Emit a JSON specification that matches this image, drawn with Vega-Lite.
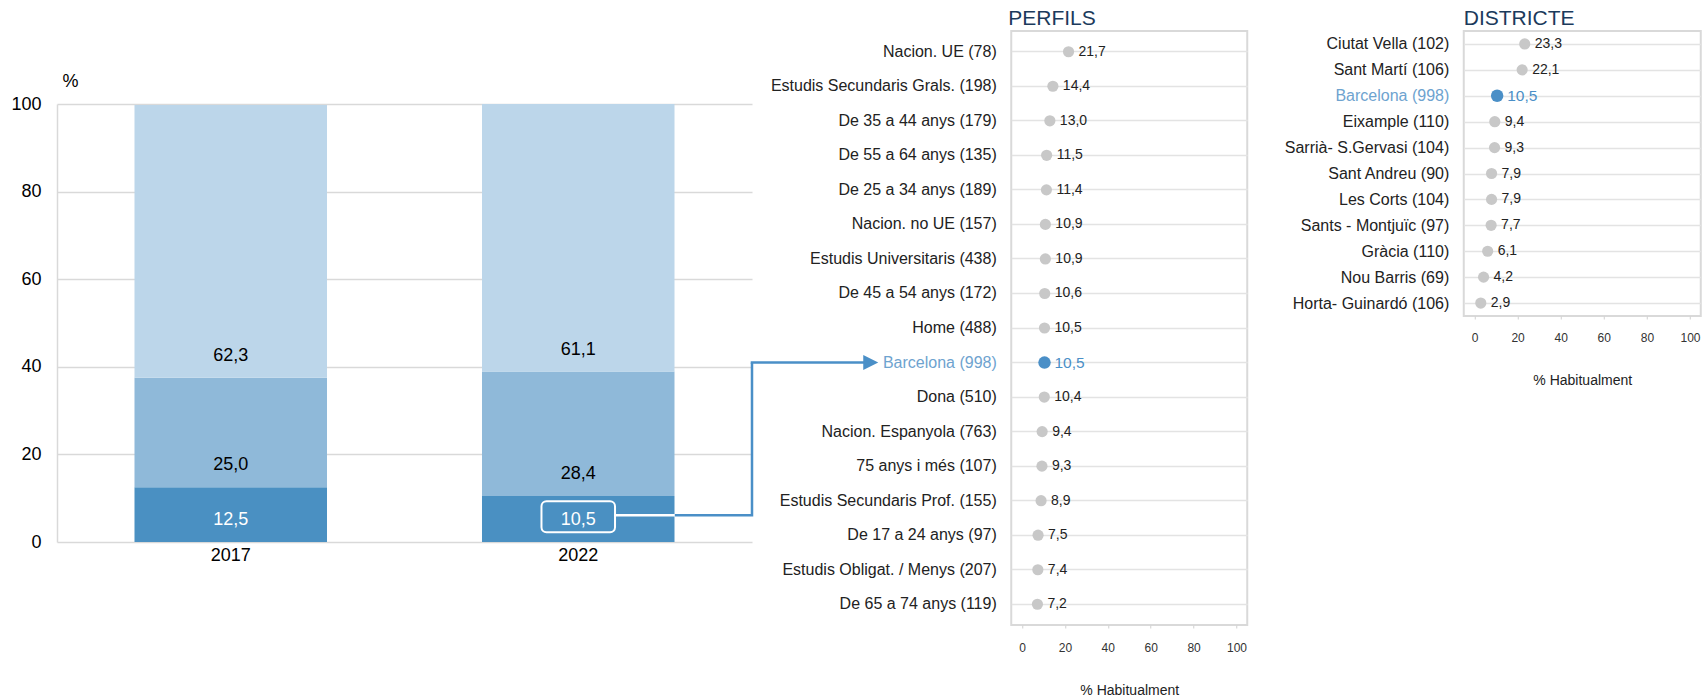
{
  "$schema": "https://vega.github.io/schema/vega-lite/v6.json",
  "padding": {"left": 10, "top": 7, "right": 0, "bottom": 0},
  "background": "white",
  "config": {
    "font": "Liberation Sans",
    "locale": {"number": {"decimal": ",", "thousands": ".", "grouping": [3], "currency": ["", " €"]}},
    "view": {"stroke": "#d9d9d9", "strokeWidth": 2},
    "title": {"anchor": "start", "frame": "group", "fontSize": 21, "fontWeight": "normal", "color": "#1b3a5c", "baseline": "alphabetic", "offset": 2}
  },
  "datasets": {
    "bars": [
      {"year": "2017", "cat": "Habitualment", "k": 1, "value": 12.5},
      {"year": "2017", "cat": "Alguna vegada", "k": 2, "value": 25.0},
      {"year": "2017", "cat": "Mai", "k": 3, "value": 62.3},
      {"year": "2022", "cat": "Habitualment", "k": 1, "value": 10.5},
      {"year": "2022", "cat": "Alguna vegada", "k": 2, "value": 28.4},
      {"year": "2022", "cat": "Mai", "k": 3, "value": 61.1}
    ],
    "box": [{"year": "2022", "b0": 2.2, "b1": 9.3}],
    "conn": [
      {"seg": "w", "o": 1, "cx": 0.802, "cy": 6.1},
      {"seg": "w", "o": 2, "cx": 0.889, "cy": 6.1},
      {"seg": "b", "o": 1, "cx": 0.889, "cy": 6.1},
      {"seg": "b", "o": 2, "cx": 1.0, "cy": 6.1},
      {"seg": "b", "o": 3, "cx": 1.0, "cy": 40.9}
    ],
    "arrow": [{"label": "Barcelona (998)", "a0": -126.44, "a1": -70.5}],
    "perfils": [
      {"label": "Nacion. UE (78)", "value": 21.7},
      {"label": "Estudis Secundaris Grals. (198)", "value": 14.4},
      {"label": "De 35 a 44 anys (179)", "value": 13.0},
      {"label": "De 55 a 64 anys (135)", "value": 11.5},
      {"label": "De 25 a 34 anys (189)", "value": 11.4},
      {"label": "Nacion. no UE (157)", "value": 10.9},
      {"label": "Estudis Universitaris (438)", "value": 10.9},
      {"label": "De 45 a 54 anys (172)", "value": 10.6},
      {"label": "Home (488)", "value": 10.5},
      {"label": "Barcelona (998)", "value": 10.5},
      {"label": "Dona (510)", "value": 10.4},
      {"label": "Nacion. Espanyola (763)", "value": 9.4},
      {"label": "75 anys i més (107)", "value": 9.3},
      {"label": "Estudis Secundaris Prof. (155)", "value": 8.9},
      {"label": "De 17 a 24 anys (97)", "value": 7.5},
      {"label": "Estudis Obligat. / Menys (207)", "value": 7.4},
      {"label": "De 65 a 74 anys (119)", "value": 7.2}
    ],
    "districte": [
      {"label": "Ciutat Vella (102)", "value": 23.3},
      {"label": "Sant Martí (106)", "value": 22.1},
      {"label": "Barcelona (998)", "value": 10.5},
      {"label": "Eixample (110)", "value": 9.4},
      {"label": "Sarrià- S.Gervasi (104)", "value": 9.3},
      {"label": "Sant Andreu (90)", "value": 7.9},
      {"label": "Les Corts (104)", "value": 7.9},
      {"label": "Sants - Montjuïc (97)", "value": 7.7},
      {"label": "Gràcia (110)", "value": 6.1},
      {"label": "Nou Barris (69)", "value": 4.2},
      {"label": "Horta- Guinardó (106)", "value": 2.9}
    ]
  },
  "spacing": -8.75,
  "hconcat": [
    {
      "width": 695,
      "height": 511,
      "view": {"stroke": null},
      "resolve": {"scale": {"x": "independent"}},
      "layer": [
        {
          "data": {"name": "bars"},
          "transform": [{"stack": "value", "groupby": ["year"], "sort": [{"field": "k", "order": "ascending"}], "as": ["y0", "y1"]}],
          "mark": {"type": "bar"},
          "encoding": {
            "x": {"field": "year", "type": "nominal",
              "scale": {"domain": ["2017", "2022"], "paddingInner": 0.446, "paddingOuter": 0.223},
              "axis": {"title": null, "labelAngle": 0, "labelFontSize": 18, "labelColor": "#000000", "ticks": false, "domain": false, "labelPadding": 4, "grid": false}},
            "y": {"field": "y0", "type": "quantitative",
              "scale": {"domain": [0, 100], "range": [511, 73], "nice": false, "zero": true},
              "axis": {"values": [0, 20, 40, 60, 80, 100], "title": "%", "titleAngle": 0, "titleX": 13, "titleY": 50, "titleAlign": "center", "titleBaseline": "middle", "titleFontSize": 18, "titleFontWeight": "normal", "titleColor": "#000000", "labelFontSize": 18, "labelColor": "#000000", "labelPadding": 16, "ticks": false, "domain": true, "domainColor": "#d9d9d9", "domainWidth": 1.5, "grid": true, "gridColor": "#d9d9d9", "gridWidth": 1.5}},
            "y2": {"field": "y1"},
            "color": {"field": "cat", "type": "nominal",
              "scale": {"domain": ["Habitualment", "Alguna vegada", "Mai"], "range": ["#4a90c2", "#8fb9d9", "#bcd6ea"]},
              "legend": null}
          }
        },
        {
          "data": {"name": "bars"},
          "transform": [{"stack": "value", "groupby": ["year"], "sort": [{"field": "k", "order": "ascending"}], "as": ["y0", "y1"]}],
          "mark": {"type": "text", "dy": -22, "fontSize": 18, "baseline": "middle", "align": "center"},
          "encoding": {
            "x": {"field": "year", "type": "nominal", "scale": {"domain": ["2017", "2022"], "paddingInner": 0.446, "paddingOuter": 0.223}, "axis": null},
            "y": {"field": "y0", "type": "quantitative", "title": "%"},
            "text": {"field": "value", "type": "quantitative", "format": ".1f"},
            "color": {"condition": {"test": "datum.k === 1", "value": "#ffffff"}, "value": "#000000"}
          }
        },
        {
          "data": {"name": "box"},
          "mark": {"type": "bar", "width": {"band": 0.382}, "fill": "transparent", "stroke": "#ffffff", "strokeWidth": 2, "cornerRadius": 5},
          "encoding": {
            "x": {"field": "year", "type": "nominal", "scale": {"domain": ["2017", "2022"], "paddingInner": 0.446, "paddingOuter": 0.223}, "axis": null},
            "y": {"field": "b0", "type": "quantitative", "title": "%"},
            "y2": {"field": "b1"}
          }
        },
        {
          "data": {"name": "conn"},
          "transform": [{"filter": "datum.seg === 'w'"}],
          "mark": {"type": "line", "color": "#ffffff", "strokeWidth": 2.5},
          "encoding": {
            "x": {"field": "cx", "type": "quantitative", "scale": {"domain": [0, 1], "nice": false, "zero": false}, "axis": null},
            "y": {"field": "cy", "type": "quantitative", "title": "%"},
            "order": {"field": "o", "type": "quantitative"}
          }
        },
        {
          "data": {"name": "conn"},
          "transform": [{"filter": "datum.seg === 'b'"}],
          "mark": {"type": "line", "color": "#4a8fc7", "strokeWidth": 2.5, "strokeJoin": "miter"},
          "encoding": {
            "x": {"field": "cx", "type": "quantitative", "scale": {"domain": [0, 1], "nice": false, "zero": false}, "axis": null},
            "y": {"field": "cy", "type": "quantitative", "title": "%"},
            "order": {"field": "o", "type": "quantitative"}
          }
        }
      ]
    },
    {
      "spacing": 34.5,
      "hconcat": [
        {
          "width": 236,
          "height": 594,
          "title": {"text": "PERFILS", "dx": -3},
          "layer": [
            {
              "data": {"name": "perfils"},
              "mark": {"type": "point", "filled": true, "opacity": 1},
              "encoding": {
                "x": {"field": "value", "type": "quantitative",
                  "scale": {"domain": [-5, 105], "nice": false, "zero": false},
                  "axis": {"values": [0, 20, 40, 60, 80, 100], "title": "% Habitualment", "titleFontSize": 14, "titleFontWeight": "normal", "titleColor": "#222222", "titlePadding": 30.5, "labelFontSize": 12, "labelColor": "#333333", "labelPadding": 14, "labelFlush": false, "grid": false, "domain": false, "ticks": true, "tickSize": 3, "tickColor": "#d0d0d0"}},
                "y": {"field": "label", "type": "nominal", "sort": null,
                  "scale": {"domain": ["Nacion. UE (78)", "Estudis Secundaris Grals. (198)", "De 35 a 44 anys (179)", "De 55 a 64 anys (135)", "De 25 a 34 anys (189)", "Nacion. no UE (157)", "Estudis Universitaris (438)", "De 45 a 54 anys (172)", "Home (488)", "Barcelona (998)", "Dona (510)", "Nacion. Espanyola (763)", "75 anys i més (107)", "Estudis Secundaris Prof. (155)", "De 17 a 24 anys (97)", "Estudis Obligat. / Menys (207)", "De 65 a 74 anys (119)"], "paddingInner": 0, "paddingOuter": 0.1},
                  "axis": {"title": null, "labelFontSize": 16, "labelColor": {"condition": {"test": "datum.value === 'Barcelona (998)'", "value": "#6ea3cf"}, "value": "#222222"}, "labelPadding": 15, "labelLimit": 400, "ticks": false, "domain": false, "grid": true, "gridColor": "#e3e3e3", "gridWidth": 1.5, "bandPosition": 0.5}},
                "color": {"condition": {"test": "datum.label === 'Barcelona (998)'", "value": "#4a8fc7"}, "value": "#c8c8c8"},
                "size": {"condition": {"test": "datum.label === 'Barcelona (998)'", "value": 155}, "value": 125}
              }
            },
            {
              "data": {"name": "perfils"},
              "mark": {"type": "text", "align": "left", "baseline": "middle", "dx": 10},
              "encoding": {
                "x": {"field": "value", "type": "quantitative", "title": "% Habitualment"},
                "y": {"field": "label", "type": "nominal", "sort": null, "title": null},
                "text": {"field": "value", "type": "quantitative", "format": ".1f"},
                "color": {"condition": {"test": "datum.label === 'Barcelona (998)'", "value": "#4a8fc7"}, "value": "#222222"},
                "size": {"condition": {"test": "datum.label === 'Barcelona (998)'", "value": 15.5}, "value": 14}
              }
            },
            {
              "data": {"name": "arrow"},
              "mark": {"type": "rule", "color": "#4a8fc7", "strokeWidth": 2.5},
              "encoding": {
                "x": {"field": "a0", "type": "quantitative", "title": "% Habitualment"},
                "x2": {"field": "a1"},
                "y": {"field": "label", "type": "nominal", "sort": null, "title": null}
              }
            },
            {
              "data": {"name": "arrow"},
              "mark": {"type": "point", "shape": "M -1 -1 L 1 0 L -1 1 Z", "filled": true, "opacity": 1, "color": "#4a8fc7", "size": 225},
              "encoding": {
                "x": {"field": "a1", "type": "quantitative", "title": "% Habitualment"},
                "y": {"field": "label", "type": "nominal", "sort": null, "title": null}
              }
            }
          ]
        },
        {
          "width": 237,
          "height": 285,
          "title": {"text": "DISTRICTE"},
          "layer": [
            {
              "data": {"name": "districte"},
              "mark": {"type": "point", "filled": true, "opacity": 1},
              "encoding": {
                "x": {"field": "value", "type": "quantitative",
                  "scale": {"domain": [-5, 105], "nice": false, "zero": false},
                  "axis": {"values": [0, 20, 40, 60, 80, 100], "title": "% Habitualment", "titleFontSize": 14, "titleFontWeight": "normal", "titleColor": "#222222", "titlePadding": 30.5, "labelFontSize": 12, "labelColor": "#333333", "labelPadding": 13, "labelFlush": false, "grid": false, "domain": false, "ticks": true, "tickSize": 3, "tickColor": "#d0d0d0"}},
                "y": {"field": "label", "type": "nominal", "sort": null,
                  "scale": {"domain": ["Ciutat Vella (102)", "Sant Martí (106)", "Barcelona (998)", "Eixample (110)", "Sarrià- S.Gervasi (104)", "Sant Andreu (90)", "Les Corts (104)", "Sants - Montjuïc (97)", "Gràcia (110)", "Nou Barris (69)", "Horta- Guinardó (106)"], "paddingInner": 0, "paddingOuter": 0.1},
                  "axis": {"title": null, "labelFontSize": 16, "labelColor": {"condition": {"test": "datum.value === 'Barcelona (998)'", "value": "#6ea3cf"}, "value": "#222222"}, "labelPadding": 15, "labelLimit": 400, "ticks": false, "domain": false, "grid": true, "gridColor": "#e3e3e3", "gridWidth": 1.5, "bandPosition": 0.5}},
                "color": {"condition": {"test": "datum.label === 'Barcelona (998)'", "value": "#4a8fc7"}, "value": "#c8c8c8"},
                "size": {"condition": {"test": "datum.label === 'Barcelona (998)'", "value": 155}, "value": 125}
              }
            },
            {
              "data": {"name": "districte"},
              "mark": {"type": "text", "align": "left", "baseline": "middle", "dx": 10},
              "encoding": {
                "x": {"field": "value", "type": "quantitative", "title": "% Habitualment"},
                "y": {"field": "label", "type": "nominal", "sort": null, "title": null},
                "text": {"field": "value", "type": "quantitative", "format": ".1f"},
                "color": {"condition": {"test": "datum.label === 'Barcelona (998)'", "value": "#4a8fc7"}, "value": "#222222"},
                "size": {"condition": {"test": "datum.label === 'Barcelona (998)'", "value": 15.5}, "value": 14}
              }
            }
          ]
        }
      ]
    }
  ]
}
